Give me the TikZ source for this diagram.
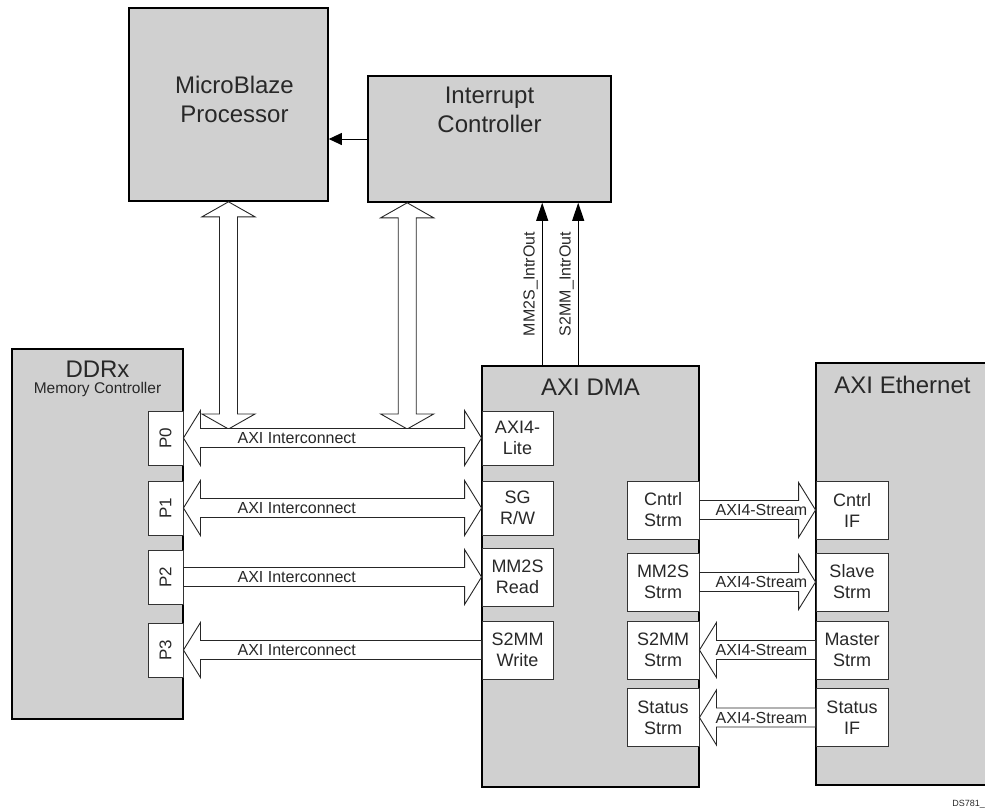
\documentclass[tikz,border=0pt]{standalone}
\usepackage{fontspec}
\setmainfont{Liberation Sans}
\usetikzlibrary{arrows.meta}
\usetikzlibrary{calc}
\usetikzlibrary{positioning}
\definecolor{blockgray}{RGB}{208,208,208}
\definecolor{txtgray}{RGB}{40,40,40}
% wide outline arrows, one head (#1 tail, #2 tip) or two heads
\newcommand{\fatone}[2]{\draw[fat] let \p1=(#1), \p2=(#2), \n1={sign(\x2-\x1)} in
  (\x1,\y1+9.5pt) -- (\x2-\n1*17pt,\y1+9.5pt) -- (\x2-\n1*17pt,\y1+27.5pt) -- (\x2,\y1)
  -- (\x2-\n1*17pt,\y1-27.5pt) -- (\x2-\n1*17pt,\y1-9.5pt) -- (\x1,\y1-9.5pt) -- cycle;}
\newcommand{\fattwo}[2]{\draw[fat] let \p1=(#1), \p2=(#2), \n1={sign(\x2-\x1)} in
  (\x1,\y1) -- (\x1+\n1*17pt,\y1+27.5pt) -- (\x1+\n1*17pt,\y1+9.5pt) -- (\x2-\n1*17pt,\y1+9.5pt)
  -- (\x2-\n1*17pt,\y1+27.5pt) -- (\x2,\y1) -- (\x2-\n1*17pt,\y1-27.5pt) -- (\x2-\n1*17pt,\y1-9.5pt)
  -- (\x1+\n1*17pt,\y1-9.5pt) -- (\x1+\n1*17pt,\y1-27.5pt) -- cycle;}
\newcommand{\fatvert}[2]{\draw[fat] let \p1=(#1), \p2=(#2) in
  (\x1,\y1) -- (\x1+26.5pt,\y1-15pt) -- (\x1+9pt,\y1-15pt) -- (\x1+9pt,\y2+15pt)
  -- (\x1+26.5pt,\y2+15pt) -- (\x1,\y2) -- (\x1-26.5pt,\y2+15pt) -- (\x1-9pt,\y2+15pt)
  -- (\x1-9pt,\y1-15pt) -- (\x1-26.5pt,\y1-15pt) -- cycle;}
\tikzset{
  block/.style={draw, line width=1.6pt, fill=blockgray},
  port/.style={draw=black!80, line width=0.9pt, fill=white, text=txtgray, align=center,
    inner sep=0pt, font=\fontsize{18}{21}\selectfont},
  title/.style={text=txtgray, align=center, inner sep=0pt, font=\fontsize{24}{29}\selectfont},
  lbl/.style={text=txtgray, inner sep=0pt, font=\fontsize{16}{18}\selectfont},
  fat/.style={draw=black!85, line width=0.9pt, fill=white},
  irq/.style={draw, line width=1pt, -{Triangle[length=18pt,width=12pt]}},
}
\begin{document}
\begin{tikzpicture}[x=1pt,y=-1pt]
  \useasboundingbox (0,0) rectangle (985,809);
  \clip (0,0) rectangle (985,809);
  % top blocks
  \node[block, minimum width=199pt, minimum height=193pt] (mb) at (228.5,104.5) {};
  \node[title, below=69pt of mb.north, xshift=6pt] (mbt) {MicroBlaze\\Processor};
  \node[block, minimum width=243pt, minimum height=126pt] (ic) at (489.5,139) {};
  \node[title, below=12pt of ic.north] (ict) {Interrupt\\Controller};
  % bottom blocks
  \node[block, minimum width=171pt, minimum height=370pt] (ddr) at (97.5,534) {};
  \node[title, below=13pt of ddr.north] (ddrt) {DDRx};
  \node[title, font=\fontsize{15.5}{18}\selectfont, below=4pt of ddrt] (ddrs) {Memory Controller};
  \node[block, minimum width=217pt, minimum height=421pt] (dma) at (590.5,576.5) {};
  \node[title, below=14pt of dma.north] (dmat) {AXI DMA};
  \node[block, minimum width=184pt, minimum height=422pt] (eth) at (908,574) {};
  \node[title, below=14pt of eth.north, xshift=-5.5pt] (etht) {AXI Ethernet};
  % ports
  \node[port, minimum width=35pt, minimum height=54pt, font=\fontsize{17}{19}\selectfont] (p0) at (165.5,438) {\rotatebox{90}{P0}};
  \node[port, minimum width=35pt, minimum height=54pt, font=\fontsize{17}{19}\selectfont] (p1) at (165.5,508) {\rotatebox{90}{P1}};
  \node[port, minimum width=35pt, minimum height=54pt, font=\fontsize{17}{19}\selectfont] (p2) at (165.5,577) {\rotatebox{90}{P2}};
  \node[port, minimum width=35pt, minimum height=54pt, font=\fontsize{17}{19}\selectfont] (p3) at (165.5,650) {\rotatebox{90}{P3}};
  \node[port, minimum width=71pt, minimum height=54pt] (lite) at (517.5,438) {AXI4-\\Lite};
  \node[port, minimum width=71pt, minimum height=54pt] (sg) at (517.5,508) {SG\\R/W};
  \node[port, minimum width=71pt, minimum height=58pt] (rd) at (517.5,577) {MM2S\\Read};
  \node[port, minimum width=71pt, minimum height=58pt] (wr) at (517.5,650) {S2MM\\Write};
  \node[port, minimum width=72pt, minimum height=58pt] (cs) at (663,510) {Cntrl\\Strm};
  \node[port, minimum width=72pt, minimum height=58pt] (ms) at (663,582) {MM2S\\Strm};
  \node[port, minimum width=72pt, minimum height=58pt] (ss) at (663,650) {S2MM\\Strm};
  \node[port, minimum width=72pt, minimum height=58pt] (ts) at (663,717.5) {Status\\Strm};
  \node[port, minimum width=72pt, minimum height=58pt] (cif) at (852,510) {Cntrl\\IF};
  \node[port, minimum width=72pt, minimum height=58pt] (slv) at (852,582) {Slave\\Strm};
  \node[port, minimum width=72pt, minimum height=58pt] (mst) at (852,650) {Master\\Strm};
  \node[port, minimum width=72pt, minimum height=58pt] (sif) at (852,717.5) {Status\\IF};
  % interrupts
  \draw[irq, -{Triangle[length=13pt,width=12pt]}] (ic.west) -- (ic.west -| mb.east);
  \coordinate (irq1) at ($(dma.north west)+(61,0)$);
  \coordinate (irq2) at ($(dma.north west)+(97,0)$);
  \draw[irq] (irq1) -- (irq1 |- ic.south) node[lbl, midway, sloped, above=4pt] {MM2S\_IntrOut};
  \draw[irq] (irq2) -- (irq2 |- ic.south) node[lbl, midway, sloped, above=4pt] {S2MM\_IntrOut};
  % buses
  \coordinate (bus) at ($(p0.east)+(0,-9)$);
  \coordinate (icbus) at ($(ic.south west)+(40,0)$);
  \fatvert{mb.south}{mb.south |- bus}
  \fatvert{icbus}{icbus |- bus}
  \fattwo{p0.east}{lite.west}
  \fattwo{p1.east}{sg.west}
  \fatone{p2.east}{rd.west}
  \fatone{wr.west}{p3.east}
  \fatone{cs.east}{cif.west}
  \fatone{ms.east}{slv.west}
  \fatone{mst.west}{ss.east}
  \fatone{sif.west}{ts.east}
  \node[lbl, right=54pt of p0.east] (l0) {AXI Interconnect};
  \node[lbl, right=54pt of p1.east] (l1) {AXI Interconnect};
  \node[lbl, right=54pt of p2.east] (l2) {AXI Interconnect};
  \node[lbl, right=54pt of p3.east] (l3) {AXI Interconnect};
  \node[lbl] (s0) at ($(cs.east)!0.5!(cif.west)+(4,0)$) {AXI4-Stream};
  \node[lbl] (s1) at ($(ms.east)!0.5!(slv.west)+(4,0)$) {AXI4-Stream};
  \node[lbl] (s2) at ($(ss.east)!0.5!(mst.west)+(4,0)$) {AXI4-Stream};
  \node[lbl] (s3) at ($(ts.east)!0.5!(sif.west)+(4,0)$) {AXI4-Stream};
  \node[lbl, font=\fontsize{9}{10}\selectfont, anchor=south east] (ds) at (985,808) {DS781\_};
\end{tikzpicture}
\end{document}
